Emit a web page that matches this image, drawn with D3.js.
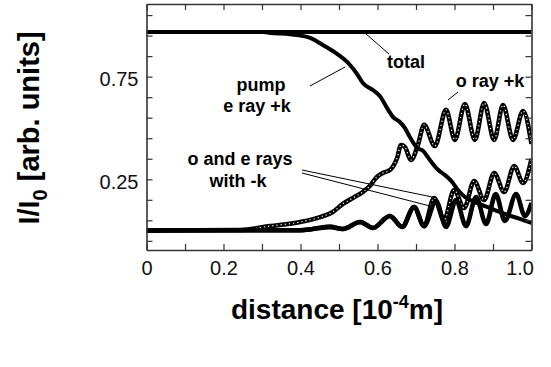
<!DOCTYPE html>
<html>
<head>
<meta charset="utf-8">
<script src="https://d3js.org/d3.v7.min.js"></script>
<style>
  body { margin: 0; background: #fff; }
  svg { display: block; font-family: "Liberation Sans", Arial, sans-serif; }
</style>
</head>
<body>
<svg id="chart" width="551" height="367"></svg>
<script>
// distance in units of 1e-4 m, intensity I/I0
const totalX = [0, 1.0];
const totalY = [0.967, 0.967];

const pumpX = [0, 0.303, 0.321, 0.373, 0.425, 0.458, 0.495, 0.521, 0.547, 0.562, 0.588, 0.606, 0.625, 0.640, 0.658, 0.671, 0.684, 0.703, 0.718, 0.736, 0.755, 0.775, 0.794, 0.809, 0.827, 0.853, 0.892, 0.931, 0.970, 1.0];
const pumpY = [0.967, 0.967, 0.963, 0.956, 0.939, 0.904, 0.861, 0.822, 0.763, 0.719, 0.685, 0.656, 0.597, 0.554, 0.529, 0.500, 0.456, 0.403, 0.389, 0.344, 0.300, 0.271, 0.237, 0.198, 0.164, 0.139, 0.110, 0.081, 0.057, 0.037];

const oPlusX = [0, 0.243, 0.321, 0.399, 0.451, 0.484, 0.510, 0.536, 0.562, 0.580, 0.598, 0.614, 0.632, 0.651, 0.661, 0.671, 0.687, 0.705, 0.721, 0.749, 0.778, 0.801, 0.827, 0.853, 0.877, 0.903, 0.926, 0.952, 0.978, 1.0];
const oPlusY = [0, 0.003, 0.022, 0.042, 0.066, 0.091, 0.130, 0.159, 0.188, 0.217, 0.261, 0.281, 0.295, 0.354, 0.417, 0.408, 0.344, 0.417, 0.515, 0.412, 0.588, 0.442, 0.617, 0.442, 0.622, 0.442, 0.612, 0.442, 0.583, 0.422];

const eMinusX = [0, 0.400, 0.432, 0.477, 0.510, 0.555, 0.588, 0.632, 0.664, 0.695, 0.721, 0.752, 0.778, 0.804, 0.830, 0.856, 0.882, 0.907, 0.931, 0.960, 0.983, 1.0];
const eMinusY = [0.002, 0.002, 0.008, 0.018, 0.008, 0.042, 0.013, 0.071, 0.018, 0.115, 0.022, 0.144, 0.018, 0.149, 0.022, 0.164, 0.032, 0.178, 0.047, 0.178, 0.071, 0.135];

const oMinusX = [0, 0.400, 0.432, 0.477, 0.510, 0.555, 0.588, 0.632, 0.664, 0.695, 0.721, 0.747, 0.773, 0.799, 0.825, 0.851, 0.877, 0.903, 0.929, 0.955, 0.978, 1.0];
const oMinusY = [0.002, 0.002, 0.008, 0.018, 0.008, 0.042, 0.013, 0.071, 0.018, 0.115, 0.022, 0.159, 0.052, 0.198, 0.110, 0.242, 0.149, 0.281, 0.188, 0.315, 0.232, 0.349];

const xTicks = [0, 0.1, 0.2, 0.3, 0.4, 0.5, 0.6, 0.7, 0.8, 0.9, 1.0];
const xTickLabels = ["0", "", "0.2", "", "0.4", "", "0.6", "", "0.8", "", "1.0"];
const yTicks = [-0.05, 0.05, 0.15, 0.25, 0.35, 0.45, 0.55, 0.65, 0.75, 0.85, 0.95, 1.05];
const yTickLabels = ["", "", "", "0.25", "", "", "", "", "0.75", "", "", ""];

const svg = d3.select("#chart");
const W = 551, H = 367;
const margin = {top: 4, right: 19.5, bottom: 117, left: 146.5};

const x = d3.scaleLinear().domain([0, 1]).range([margin.left, W - margin.right]);
const y = d3.scaleLinear().domain([-0.0945, 1.104]).range([H - margin.bottom, margin.top]);

svg.append("defs").append("clipPath").attr("id", "plotclip")
  .append("rect")
  .attr("x", margin.left).attr("y", margin.top)
  .attr("width", W - margin.left - margin.right)
  .attr("height", H - margin.top - margin.bottom);

const line = d3.line()
  .x(d => x(d[0]))
  .y(d => y(d[1]))
  .curve(d3.curveMonotoneX);

const plot = svg.append("g").attr("clip-path", "url(#plotclip)");

// o rays: chain of hollow square markers
[[oMinusX, oMinusY], [oPlusX, oPlusY]].forEach(function(s) {
  const pts = d3.zip(s[0], s[1]);
  plot.append("path")
    .datum(pts)
    .attr("d", line)
    .style("fill", "none")
    .style("stroke", "#000")
    .style("stroke-width", 4.6);
  plot.append("path")
    .datum(pts)
    .attr("d", line)
    .style("fill", "none")
    .style("stroke", "#fff")
    .style("stroke-width", 1.2)
    .style("stroke-dasharray", "1.2,3");
});

// solid curves
[[totalX, totalY], [pumpX, pumpY], [eMinusX, eMinusY]].forEach(function(s, i) {
  plot.append("path")
    .datum(d3.zip(s[0], s[1]))
    .attr("d", line)
    .style("fill", "none")
    .style("stroke", "#000")
    .style("stroke-width", i === 2 ? 4.6 : 4)
    .style("stroke-linejoin", "round");
});

// axes (frame with inward ticks)
const yB = H - margin.bottom, xR = W - margin.right;

const gx = svg.append("g")
  .attr("transform", "translate(0," + yB + ")")
  .call(d3.axisBottom(x).tickValues(xTicks).tickSizeInner(-6).tickSizeOuter(0).tickPadding(11)
    .tickFormat((d, i) => xTickLabels[i]));
gx.selectAll("text").filter((d, i) => i === xTicks.length - 1)
  .attr("text-anchor", "end").attr("dx", 2);

svg.append("g")
  .attr("transform", "translate(0," + margin.top + ")")
  .call(d3.axisTop(x).tickValues(xTicks).tickSizeInner(-6).tickSizeOuter(0).tickFormat(""));

svg.append("g")
  .attr("transform", "translate(" + margin.left + ",0)")
  .call(d3.axisLeft(y).tickValues(yTicks).tickSizeInner(-6).tickSizeOuter(0).tickPadding(8)
    .tickFormat((d, i) => yTickLabels[i]))
  .selectAll("text").attr("dy", "0.45em");

svg.append("g")
  .attr("transform", "translate(" + xR + ",0)")
  .call(d3.axisRight(y).tickValues(yTicks).tickSizeInner(-6).tickSizeOuter(0).tickFormat(""));

svg.selectAll(".domain").style("stroke", "#333").style("stroke-width", 1.6);
svg.selectAll(".tick line").style("stroke", "#333").style("stroke-width", 1.2);
svg.selectAll(".tick text").style("font-size", "20px").style("fill", "#111")
  .style("font-family", "'Liberation Sans', Arial, sans-serif");

// axis titles
const xt = svg.append("text")
  .attr("x", 337).attr("y", 319)
  .attr("text-anchor", "middle")
  .style("font-size", "28px").style("font-weight", "bold");
xt.append("tspan").text("distance [10");
xt.append("tspan").attr("dy", -11).style("font-size", "18px").text("-4");
xt.append("tspan").attr("dy", 11).text("m]");

const yt = svg.append("text")
  .attr("transform", "translate(39,128) rotate(-90)")
  .attr("text-anchor", "middle")
  .style("font-size", "29px").style("font-weight", "bold");
yt.append("tspan").text("I/I");
yt.append("tspan").attr("dy", 8).style("font-size", "20px").text("0");
yt.append("tspan").attr("dy", -8).text(" [arb. units]");

// annotations
const notes = [
  {t: "total", x: 387, y: 68, a: "start"},
  {t: "pump", x: 261, y: 91, a: "middle"},
  {t: "e ray +k", x: 257, y: 112, a: "middle"},
  {t: "o ray +k", x: 490, y: 87, a: "middle"},
  {t: "o and e rays", x: 240, y: 165, a: "middle"},
  {t: "with -k", x: 238, y: 187, a: "middle"}
];
notes.forEach(function(n) {
  svg.append("text")
    .attr("x", n.x).attr("y", n.y)
    .attr("text-anchor", n.a)
    .style("font-size", "18px").style("font-weight", "bold")
    .text(n.t);
});

const leaders = [
  [365, 33, 389, 54],
  [310, 86, 345, 67],
  [448, 100, 458, 92],
  [302, 170, 437, 198],
  [302, 173, 430, 206]
];
leaders.forEach(function(l) {
  svg.append("line")
    .attr("x1", l[0]).attr("y1", l[1]).attr("x2", l[2]).attr("y2", l[3])
    .style("stroke", "#000").style("stroke-width", 1);
});
</script>
</body>
</html>
